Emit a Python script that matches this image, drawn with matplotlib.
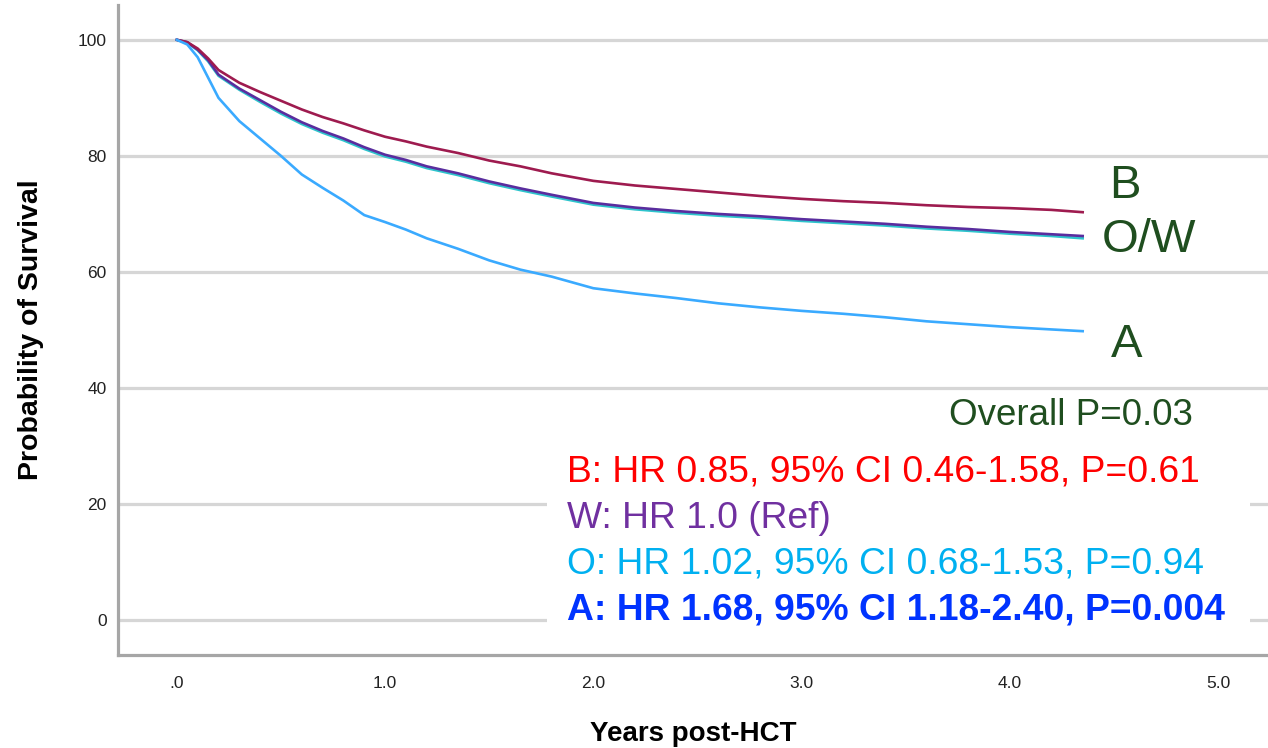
import matplotlib
matplotlib.use("Agg")
import matplotlib.pyplot as plt
from matplotlib.patches import Rectangle

plt.rcParams['font.family'] = ['Liberation Sans', 'DejaVu Sans']

# Kaplan-Meier estimates (years, % surviving)
years = [0.0, 0.05, 0.1, 0.15, 0.2, 0.3, 0.4, 0.5, 0.6, 0.7, 0.8, 0.9, 1.0,
         1.1, 1.2, 1.35, 1.5, 1.65, 1.8, 2.0, 2.2, 2.4, 2.6, 2.8, 3.0, 3.2,
         3.4, 3.6, 3.8, 4.0, 4.2, 4.35]
surv_B = [100, 99.6, 98.5, 96.8, 94.8, 92.6, 91.0, 89.5, 88.0, 86.7, 85.6, 84.4, 83.3,
          82.5, 81.6, 80.5, 79.2, 78.2, 77.0, 75.7, 74.9, 74.3, 73.7, 73.1, 72.6, 72.2,
          71.9, 71.5, 71.2, 71.0, 70.7, 70.3]
surv_W = [100, 99.6, 98.3, 96.5, 94.0, 91.6, 89.6, 87.6, 85.8, 84.3, 83.0, 81.5, 80.2,
          79.3, 78.2, 77.0, 75.6, 74.4, 73.3, 71.9, 71.1, 70.5, 70.0, 69.6, 69.1, 68.7,
          68.3, 67.8, 67.4, 66.9, 66.5, 66.2]
surv_O = [100, 99.5, 98.2, 96.3, 93.8, 91.4, 89.3, 87.3, 85.5, 84.0, 82.7, 81.2, 79.9,
          79.0, 77.9, 76.7, 75.3, 74.1, 73.0, 71.6, 70.8, 70.2, 69.7, 69.3, 68.8, 68.4,
          68.0, 67.5, 67.1, 66.6, 66.2, 65.8]
surv_A = [100, 99.2, 97.0, 93.5, 90.0, 86.0, 83.0, 80.0, 76.8, 74.5, 72.3, 69.8, 68.6,
          67.3, 65.8, 64.0, 62.0, 60.4, 59.2, 57.2, 56.3, 55.5, 54.6, 53.9, 53.3, 52.8,
          52.2, 51.5, 51.0, 50.5, 50.1, 49.8]

group_labels = ["B", "O/W", "A"]
overall_text = "Overall P=0.03"
hr_lines = ["B: HR 0.85, 95% CI 0.46-1.58, P=0.61",
            "W: HR 1.0 (Ref)",
            "O: HR 1.02, 95% CI 0.68-1.53, P=0.94",
            "A: HR 1.68, 95% CI 1.18-2.40, P=0.004"]
hr_colors = ['#ff0000', '#7030a0', '#00b0f0', '#0033ff']
y_ticks = [0, 20, 40, 60, 80, 100]
x_ticks = [0, 1, 2, 3, 4, 5]
x_ticklabels = [".0", "1.0", "2.0", "3.0", "4.0", "5.0"]

fig = plt.figure(figsize=(12.68, 7.48), dpi=100)
ax = fig.add_axes([0.093, 0.1243, 0.907, 0.869])

ax.plot(years, surv_O, color='#2ec4cc', lw=1.9, zorder=3)
ax.plot(years, surv_W, color='#5a2d9e', lw=1.9, zorder=4)
ax.plot(years, surv_B, color='#9e1b4f', lw=1.9, zorder=4)
ax.plot(years, surv_A, color='#3aaaff', lw=1.9, zorder=4)

ax.set_xlim(-0.283, 5.24)
ax.set_ylim(-6.0, 106.0)
ax.set_yticks(y_ticks)
ax.set_xticks(x_ticks)
ax.set_xticklabels(x_ticklabels)
ax.tick_params(length=0, labelsize=12.5, colors='#222222')
ax.tick_params(axis='y', pad=8)
ax.tick_params(axis='x', pad=15)
ax.yaxis.grid(True, color='#d6d6d6', lw=2.3)
ax.set_axisbelow(True)

for s in ['top', 'right']:
    ax.spines[s].set_visible(False)
for s in ['left', 'bottom']:
    ax.spines[s].set_color('#a6a6a6')
    ax.spines[s].set_linewidth(2.3)

ax.set_ylabel("Probability of Survival", fontsize=20.5, fontweight='bold', labelpad=24)
ax.set_xlabel("Years post-HCT", fontsize=20, fontweight='bold', labelpad=22)

# white panel behind the hazard ratio text
ax.add_patch(Rectangle((1.777, -3.4), 3.377, 32.5, facecolor='white',
                       edgecolor='none', zorder=2))

green = '#1f4e1f'
label_x = {"B": 4.475, "O/W": 4.44, "A": 4.485}
for lab, yv in zip(group_labels, [74.8, 65.5, 47.4]):
    ax.text(label_x[lab], yv, lab, fontsize=34, color=green,
            ha='left', va='center', zorder=5)

ax.text(4.88, 35.2, overall_text, fontsize=26.5, color=green, ha='right',
        va='center', zorder=5)

for i, (txt, col) in enumerate(zip(hr_lines, hr_colors)):
    ax.text(1.873, 25.5 - i * 7.9, txt, fontsize=26.8, color=col, ha='left',
            va='center', zorder=5, fontweight='bold' if i == 3 else 'normal')

fig.savefig("out.png", dpi=100)
